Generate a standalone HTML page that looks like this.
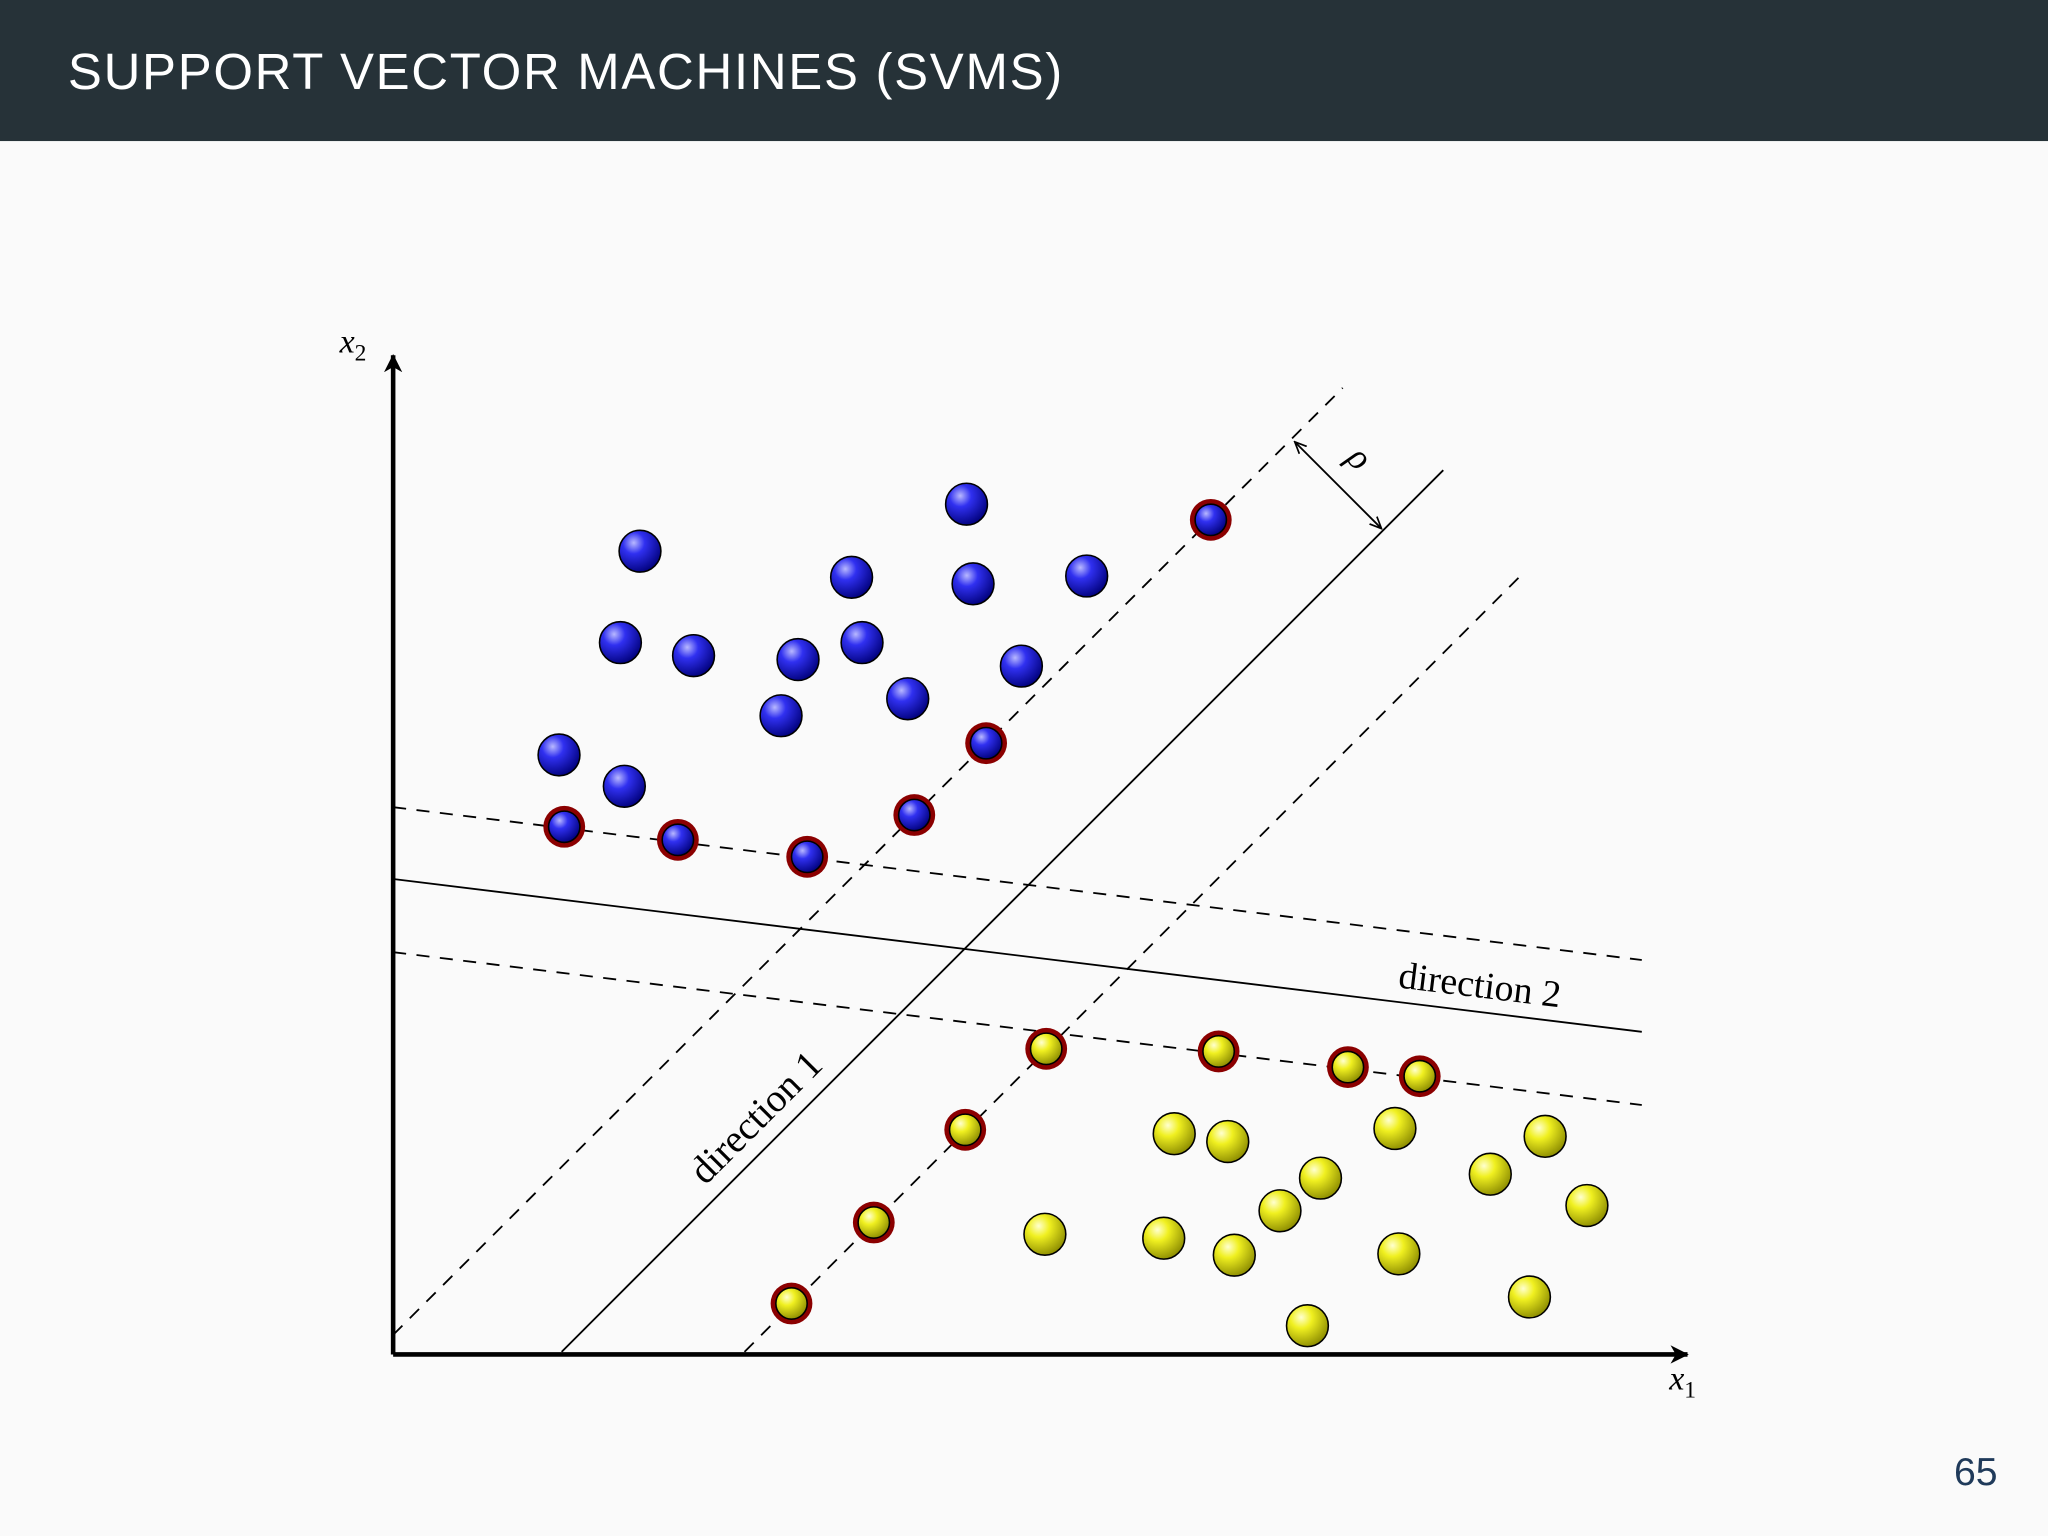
<!DOCTYPE html>
<html><head><meta charset="utf-8"><style>
html,body{margin:0;padding:0;background:#fafafa;}
svg{display:block;}
</style></head><body>
<svg width="2048" height="1536" viewBox="0 0 1568 1176" xmlns="http://www.w3.org/2000/svg">
<defs>
<radialGradient id="gb" cx="0.35" cy="0.3" r="0.75"><stop offset="0" stop-color="#b8b8ff"/><stop offset="0.35" stop-color="#3030f0"/><stop offset="1" stop-color="#00007a"/></radialGradient>
<radialGradient id="gy" cx="0.35" cy="0.3" r="0.75"><stop offset="0" stop-color="#ffffd0"/><stop offset="0.35" stop-color="#f0f020"/><stop offset="1" stop-color="#8a8a00"/></radialGradient>
<marker id="ah" markerWidth="10" markerHeight="10" refX="8" refY="5" orient="auto-start-reverse" markerUnits="userSpaceOnUse"><path d="M0,1 L9,5 L0,9" fill="none" stroke="#000" stroke-width="1.3"/></marker>
<marker id="ahb" markerWidth="16" markerHeight="16" refX="13" refY="8" orient="auto" markerUnits="userSpaceOnUse"><path d="M0,1 L14,8 L0,15 L4,8 Z" fill="#000"/></marker>
</defs>
<rect x="0" y="0" width="1568" height="1176" fill="#fafafa"/>
<rect x="0" y="0" width="1568" height="108" fill="#263238"/>
<text x="52" y="68" fill="#ffffff" font-family="Liberation Sans, sans-serif" font-size="39" letter-spacing="1.3">SUPPORT VECTOR MACHINES (SVMS)</text>
<text x="1496" y="1137" fill="#1f3a5a" font-family="Liberation Sans, sans-serif" font-size="30">65</text>
<g stroke="#000" stroke-width="3.5">
<line x1="301" y1="1037" x2="301" y2="272" marker-end="url(#ahb)"/>
<line x1="301" y1="1037" x2="1292" y2="1037" marker-end="url(#ahb)"/>
</g>
<text x="260" y="270" font-family="Liberation Serif, serif" font-style="italic" font-size="26">x<tspan font-size="18" dy="6" font-style="normal">2</tspan></text>
<text x="1278" y="1064" font-family="Liberation Serif, serif" font-style="italic" font-size="26">x<tspan font-size="18" dy="6" font-style="normal">1</tspan></text>
<g fill="none" stroke="#000" stroke-width="1.4">
<line x1="430" y1="1035" x2="1105" y2="360"/>
<line x1="301" y1="1022" x2="1028" y2="297" stroke-dasharray="10,8"/>
<line x1="570" y1="1035" x2="1168" y2="437" stroke-dasharray="10,8"/>
<line x1="301" y1="673" x2="1257" y2="790"/>
<line x1="301" y1="618" x2="1257" y2="735" stroke-dasharray="10,8"/>
<line x1="301" y1="729" x2="1257" y2="846" stroke-dasharray="10,8"/>
<line x1="992" y1="339" x2="1057" y2="404" marker-start="url(#ah)" marker-end="url(#ah)"/>
</g>
<text transform="translate(1030,352) rotate(45)" font-family="Liberation Serif, serif" font-style="italic" font-size="28">ρ</text>
<text transform="translate(540,908) rotate(-45)" font-family="Liberation Serif, serif" font-size="30">direction 1</text>
<text transform="translate(1070,756) rotate(7)" font-family="Liberation Serif, serif" font-size="29">direction 2</text>
<g id="pts"></g>
</svg>
<script>
const blueX=[490,740,652,745,832,475,531,611,660,782,695,598,428,478];
const blueY=[422,386,442,447,441,492,502,505,492,510,535,548,578,602];
const blueSvX=[927,755,700,432,519,618];
const blueSvY=[398,569,624,633,643,656];
const yelX=[899,940,1068,1183,1011,980,1141,1215,800,891,945,1071,1171,1001];
const yelY=[868,874,864,870,902,927,899,923,945,948,961,960,993,1015];
const yelSvX=[801,933,1032,1087,739,669,606];
const yelSvY=[803,805,817,824,865,936,998];
const g=document.getElementById('pts');
const NS='http://www.w3.org/2000/svg';
function add(xs,ys,fill,sv,nm){
  xs.forEach((x,i)=>{
    if(sv){
      const r=document.createElementNS(NS,'circle');
      r.setAttribute('cx',x);r.setAttribute('cy',ys[i]);r.setAttribute('r',16);
      r.setAttribute('fill','#8b0000');
      
      
      g.appendChild(r);
    }
    const c=document.createElementNS(NS,'circle');
    c.setAttribute('cx',x);c.setAttribute('cy',ys[i]);c.setAttribute('r',sv?12:16);
    c.setAttribute('fill',fill);c.setAttribute('stroke','#000');c.setAttribute('stroke-width',1.2);
    
    
    g.appendChild(c);
  });
}
add(blueX,blueY,'url(#gb)',false,'blue-point');
add(blueSvX,blueSvY,'url(#gb)',true,'blue-support-vector');
add(yelX,yelY,'url(#gy)',false,'yellow-point');
add(yelSvX,yelSvY,'url(#gy)',true,'yellow-support-vector');
</script>
</body></html>
